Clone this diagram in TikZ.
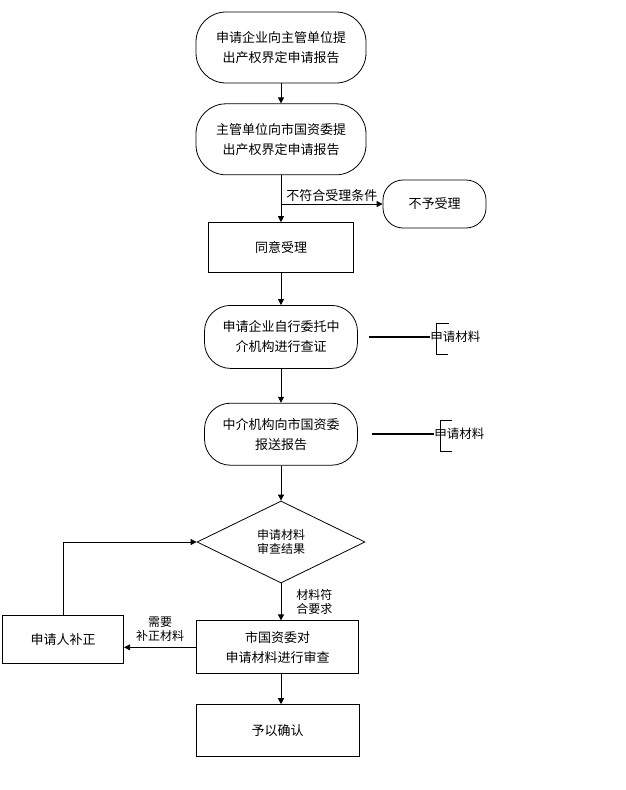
\documentclass[tikz,border=0pt]{standalone}
\usepackage{fontspec}
\setmainfont{Noto Sans CJK SC}
\usetikzlibrary{arrows.meta}
\usetikzlibrary{positioning}
\usetikzlibrary{shapes.geometric}

\begin{document}
\begin{tikzpicture}[
				x=1pt, y=-1pt,
				line width=0.8pt,
				arrow/.style={-{Triangle[length=6pt,width=6pt]}},
				roundbox/.style={draw, rounded corners=#1, align=center, inner sep=0pt, font=\fontsize{13}{20}\selectfont},
				roundbox/.default=28pt,
				procbox/.style={draw, align=center, inner sep=0pt, font=\fontsize{13}{20}\selectfont},
				decision/.style={draw, diamond, align=center, inner sep=0pt, minimum width=168pt, minimum height=82pt, font=\fontsize{12}{14}\selectfont},
				edgetext/.style={align=center, inner sep=0pt, font=\fontsize{12}{14}\selectfont},
				matnote/.style={inner sep=0pt, font=\fontsize{12.5}{15}\selectfont},
				bar/.style={line width=2pt},
			]
				\useasboundingbox (0,0) rectangle (626,790);
				
				\node (apply) [roundbox=30pt, minimum width=170pt, minimum height=71pt] at (281,47.5) {申请企业向主管单位提\\出产权界定申请报告};
				\node (dept) [roundbox=30pt, minimum width=170pt, minimum height=71pt, below=20pt of apply] {主管单位向市国资委提\\出产权界定申请报告};
				\node (reject) [roundbox=20pt, minimum width=103pt, minimum height=48pt] at (434.5,204) {不予受理};
				\node (accept) [procbox, minimum width=145pt, minimum height=50pt, below=47pt of dept] {同意受理};
				\node (verify) [roundbox=26pt, minimum width=153pt, minimum height=63pt, below=32pt of accept] {申请企业自行委托中\\介机构进行查证};
				\node (report) [roundbox=26pt, minimum width=153pt, minimum height=62pt, below=34pt of verify] {中介机构向市国资委\\报送报告};
				\node (dia) [decision, below=35pt of report] {申请材料\\审查结果};
				\node (review) [procbox, minimum width=162pt, minimum height=53pt, below=37pt of dia, xshift=-3.5pt] {市国资委对\\申请材料进行审查};
				\node (confirm) [procbox, minimum width=163pt, minimum height=52pt, below=30pt of review] {予以确认};
				\node (amend) [procbox, minimum width=121pt, minimum height=48pt, left=72pt of review, yshift=8pt] {申请人补正};
				\node (mat1) [matnote, right=72pt of verify] {申请材料};
				\node (mat2) [matnote, right=76pt of report] {申请材料};
				
				\draw[arrow] (apply) -- (dept);
				\draw[arrow] (dept) -- (accept);
				\draw[arrow] (dept.south |- reject.west) -- node[edgetext, font=\fontsize{13}{15}\selectfont, above=2pt] {不符合受理条件} (reject.west);
				\draw[arrow] (accept) -- (verify);
				\draw[arrow] (verify) -- (report);
				\draw[arrow] (report) -- (dia);
				\draw[arrow] (dia.south) -- node[edgetext, right=15pt] {材料符\\合要求} (dia.south |- review.north);
				\draw[arrow] (dia.south |- review.south) -- (dia.south |- confirm.north);
				\draw[arrow] (review.west) -- node[edgetext, above=5pt] {需要\\补正材料} (review.west -| amend.east);
				\draw[arrow] (amend.north) |- (dia.west);
				
				\draw[bar] ([xshift=11pt]verify.east) -- (verify.east -| mat1.west);
				\draw ([shift={(19,-14)}]mat1.west) -| ([shift={(6,17)}]mat1.west) -- ++(12,0);
				\draw[bar] ([xshift=14pt]report.east) -- (report.east -| mat2.west);
				\draw ([shift={(18,-14)}]mat2.west) -| ([shift={(6,17)}]mat2.west) -- ++(12,0);
			\end{tikzpicture}
\end{document}
